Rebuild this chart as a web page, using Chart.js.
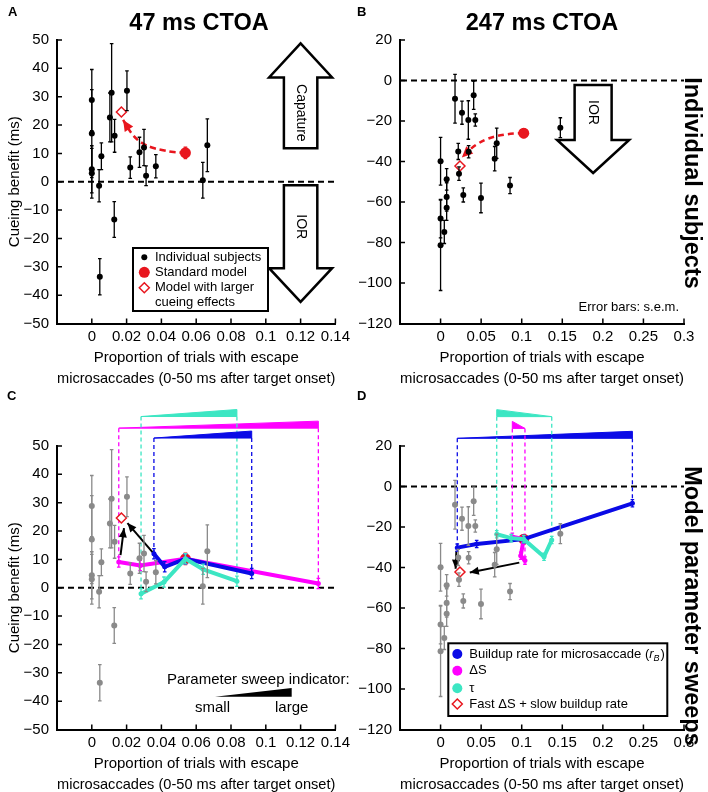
<!DOCTYPE html>
<html><head><meta charset="utf-8">
<script src="https://cdn.jsdelivr.net/npm/chart.js@4.4.1/dist/chart.umd.min.js"></script>
<style>
html,body{margin:0;padding:0;background:#fff;overflow:hidden;width:708px;height:792px;position:relative;font-family:"Liberation Sans",Arial,sans-serif;}
canvas{position:absolute;}
.t{position:absolute;font-weight:bold;color:#000;white-space:nowrap;}
.ttl{position:absolute;font-weight:bold;font-size:23.5px;line-height:28px;text-align:center;width:300px;}
.side{position:absolute;font-weight:bold;font-size:23.5px;line-height:28px;white-space:nowrap;transform:translate(-50%,-50%) rotate(90deg);}
</style></head><body>
<canvas id="cA" width="354" height="396" style="left:0;top:0"></canvas>
<canvas id="cB" width="354" height="396" style="left:354px;top:0"></canvas>
<canvas id="cC" width="354" height="396" style="left:0;top:406px"></canvas>
<canvas id="cD" width="354" height="396" style="left:354px;top:406px"></canvas>
<div class="t" style="left:8px;top:5px;font-size:13px;line-height:14px">A</div>
<div class="t" style="left:357px;top:5px;font-size:13px;line-height:14px">B</div>
<div class="t" style="left:7px;top:389px;font-size:13px;line-height:14px">C</div>
<div class="t" style="left:357px;top:389px;font-size:13px;line-height:14px">D</div>
<div class="ttl" style="left:49px;top:8px">47 ms CTOA</div>
<div class="ttl" style="left:392px;top:8px">247 ms CTOA</div>
<div class="side" style="left:693px;top:183px">Individual subjects</div>
<div class="side" style="left:693px;top:606px">Model parameter sweeps</div>
<script>
// ---------------- DATA ----------------
// 47 ms CTOA: individual subjects
const subj47_x   = [0.000,0.000,0.000,0.000,0.0042,0.0055,0.0046,0.0104,0.0114,0.0131,0.0129,0.0202,0.0221,0.0274,0.0300,0.0312,0.0368,0.0638,0.0664];
const subj47_y   = [28.8,17.0,4.4,3.0,-1.4,9.0,-33.5,22.7,31.4,16.2,-13.3,32.1,5.0,10.4,12.1,2.1,5.5,0.5,12.9];
const subj47_err = [10.8,15.5,8.3,8.8,5.7,4.7,6.4,8.6,17.3,5.8,6.3,7.0,3.8,5.3,6.4,3.5,4.1,6.3,9.3];
const model47_x = [0.0538], model47_y = [10.2], model47_err = [2.0];
const large47_x = [0.0170], large47_y = [24.6];
const curve47_x = [0.0538,0.047,0.041,0.035,0.030,0.026,0.0225,0.0180];
const curve47_y = [10.2,10.5,11.1,12.0,13.3,15.0,17.4,21.8];

// 247 ms CTOA: individual subjects
const subj247_x   = [0.000,0.000,0.000,0.0046,0.0075,0.0075,0.0075,0.0178,0.0218,0.0227,0.0264,0.0280,0.0342,0.0346,0.0408,0.0428,0.0498,0.0667,0.0692,0.0856,0.1476];
const subj247_y   = [-39.9,-68.2,-81.4,-74.8,-62.8,-57.5,-48.8,-9.0,-35.0,-46.0,-15.9,-56.5,-19.5,-35.2,-7.3,-19.5,-58.0,-38.6,-31.0,-51.9,-23.3];
const subj247_err = [11.8,9.5,22.3,5.7,6.3,7.0,5.3,12.0,4.0,3.3,5.7,3.5,9.5,3.0,7.0,3.0,7.3,6.0,7.5,4.0,4.9];
const model247_x = [0.1025], model247_y = [-26.0], model247_err = [2.2];
const large247_x = [0.0239], large247_y = [-42.2];
const curve247_x = [0.1025,0.090,0.078,0.066,0.055,0.046,0.038,0.0262];
const curve247_y = [-26.0,-26.2,-26.8,-27.8,-29.3,-31.2,-33.5,-38.0];

// Parameter sweeps, 47 ms
const sweepRB47_x  = [0.0357,0.0419,0.0538,0.0919];
const sweepRB47_y  = [12.0,7.4,10.2,5.0];
const sweepDS47_x  = [0.0155,0.0278,0.0538,0.1302];
const sweepDS47_y  = [9.1,7.85,10.2,1.5];
const sweepTau47_x = [0.0283,0.0415,0.0538,0.064,0.0834];
const sweepTau47_y = [-2.1,2.0,10.2,6.5,2.3];
const arrow47a_x = [0.0165,0.0185], arrow47a_y = [11.5,21.0];
const arrow47b_x = [0.0350,0.0205], arrow47b_y = [12.5,22.8];

// Parameter sweeps, 247 ms
const sweepRB247_x  = [0.0206,0.0445,0.1025,0.2364];
const sweepRB247_y  = [-30.2,-28.4,-26.0,-8.3];
const sweepDS247_x  = [0.0884,0.1025,0.0988,0.1040];
const sweepDS247_y  = [-24.8,-26.0,-34.2,-36.6];
const sweepTau247_x = [0.0692,0.0870,0.1025,0.1275,0.1370];
const sweepTau247_y = [-23.6,-25.5,-26.0,-34.7,-26.4];
const arrow247a_x = [0.0195,0.0185], arrow247a_y = [-31.8,-40.6];
const arrow247b_x = [0.0970,0.0360], arrow247b_y = [-37.6,-42.5];

// Axis ticks
const xTicks47  = {min:-0.02, max:0.14, step:0.02};
const xTicks247 = {min:-0.05, max:0.30, step:0.05};
const yTicks47  = {min:-50, max:50, step:10};
const yTicks247 = {min:-120, max:20, step:20};

// ---------------- STYLE ----------------
const FONT = '"Liberation Sans", Arial, Helvetica, sans-serif';
Chart.defaults.font.family = FONT;
Chart.defaults.color = '#000';
const RED = '#e8161e', BLUE = '#0a0ae6', MAG = '#ff00ff', CYAN = '#3ce6c3', GREY = '#8a8a8a';

function pts(xs, ys){ return xs.map((x,i)=>({x:x, y:ys[i]})); }
function fmtX(v){ if (v < -1e-9) return ''; return String(parseFloat(v.toFixed(3))); }
function fmtY(v){ return v < 0 ? '\u2212' + Math.abs(v) : String(v); }

const common = {
  id:'common',
  beforeDatasetsDraw(chart){
    const {ctx, chartArea:ca, scales:{y}} = chart;
    const y0 = y.getPixelForValue(0);
    ctx.save(); ctx.strokeStyle='#000'; ctx.lineWidth=2; ctx.setLineDash([6,4]);
    ctx.beginPath(); ctx.moveTo(ca.left+1, y0); ctx.lineTo(ca.right, y0); ctx.stroke(); ctx.restore();
  },
  beforeDatasetDraw(chart, args){
    const ds = chart.data.datasets[args.index];
    if (!ds.errs) return;
    const {ctx, scales:{x,y}} = chart;
    ctx.save(); ctx.strokeStyle = ds.errColor || ds.borderColor; ctx.lineWidth = ds.errWidth || 1.3;
    ds.data.forEach((p,i)=>{
      const e = ds.errs[i]; if (!e) return;
      const px = x.getPixelForValue(p.x), ya = y.getPixelForValue(p.y-e), yb = y.getPixelForValue(p.y+e);
      const c = ds.capHalf || 1.8;
      ctx.beginPath(); ctx.moveTo(px,ya); ctx.lineTo(px,yb);
      ctx.moveTo(px-c,ya); ctx.lineTo(px+c,ya); ctx.moveTo(px-c,yb); ctx.lineTo(px+c,yb); ctx.stroke();
    });
    ctx.restore();
  },
  afterDatasetDraw(chart, args){
    const ds = chart.data.datasets[args.index];
    if (!ds.arrowHead) return;
    const m = chart.getDatasetMeta(args.index).data; const n = m.length;
    const a = m[n-2], b = m[n-1];
    const ang = Math.atan2(b.y-a.y, b.x-a.x), L = ds.arrowHead.L, W = ds.arrowHead.W;
    const ctx = chart.ctx; ctx.save(); ctx.fillStyle = ds.arrowHead.color;
    ctx.translate(b.x,b.y); ctx.rotate(ang);
    ctx.beginPath(); ctx.moveTo(0,0); ctx.lineTo(-L,W); ctx.lineTo(-L,-W); ctx.closePath(); ctx.fill();
    ctx.restore();
  },
  afterDraw(chart){
    const {ctx, chartArea:ca, scales:{x,y}} = chart;
    ctx.save(); ctx.strokeStyle='#000'; ctx.lineWidth=1.5; ctx.beginPath();
    x.ticks.forEach(t=>{ if (t.value <= x.min+1e-9) return; const px=x.getPixelForValue(t.value); ctx.moveTo(px,ca.bottom); ctx.lineTo(px,ca.bottom-5); });
    y.ticks.forEach(t=>{ if (t.value <= y.min+1e-9) return; const py=y.getPixelForValue(t.value); ctx.moveTo(ca.left,py); ctx.lineTo(ca.left+5,py); });
    ctx.stroke(); ctx.restore();
  }
};
Chart.register(common);

function options(xt, yt, padR, yW, yTitle){
  return {
    responsive:false, maintainAspectRatio:false, animation:false, devicePixelRatio:1,
    layout:{padding:{left:0,right:padR,top:40,bottom:0}},
    plugins:{legend:{display:false}, tooltip:{enabled:false}},
    scales:{
      x:{type:'linear', position:'bottom', min:xt.min, max:xt.max,
        ticks:{stepSize:xt.step, callback:fmtX, font:{size:15}, color:'#000', padding:4, maxRotation:0, autoSkip:false},
        grid:{display:false, drawTicks:false}, border:{display:true,color:'#000',width:2},
        title:{display:true, text:['Proportion of trials with escape','microsaccades (0-50 ms after target onset)'], font:{size:15,lineHeight:1.4}, color:'#000', padding:{top:0,bottom:7}},
        afterFit(s){ s.height = 72.5; }},
      y:{type:'linear', min:yt.min, max:yt.max,
        ticks:{stepSize:yt.step, callback:fmtY, font:{size:15}, color:'#000', padding:8, autoSkip:false},
        grid:{display:false, drawTicks:false}, border:{display:true,color:'#000',width:2},
        title:{display:yTitle, text:'Cueing benefit (ms)', font:{size:15}, color:'#000', padding:{top:6,bottom:0}},
        afterFit(s){ s.width = yW; }}
    }
  };
}

function subjDs(xs, ys, es, col){
  return {data:pts(xs,ys), errs:es, borderColor:col, backgroundColor:col, pointRadius:3, pointBorderWidth:0, showLine:false, errWidth:1.3};
}
function modelDs(xs, ys, es){
  return {data:pts(xs,ys), errs:es, borderColor:RED, backgroundColor:RED, pointRadius:5.5, pointBorderWidth:0, showLine:false};
}
function diamondDs(xs, ys){
  return {data:pts(xs,ys), pointStyle:'rectRot', pointRadius:5, borderColor:RED, backgroundColor:'#fff', pointBorderWidth:1.5, borderWidth:1.5, showLine:false};
}
function curveDs(xs, ys){
  return {data:pts(xs,ys), showLine:true, borderColor:RED, borderWidth:2.5, borderDash:[6,4], pointRadius:0, tension:0.4, fill:false, arrowHead:{L:11,W:5,color:RED}};
}
function sweepDs(xs, ys, col){
  return {data:pts(xs,ys), showLine:true, borderColor:col, backgroundColor:col, borderWidth:4, pointRadius:2.5, pointBorderWidth:0, errs:xs.map(()=>1.8), errWidth:1.3, tension:0, fill:false};
}
function arrowDs(xs, ys){
  return {data:pts(xs,ys), showLine:true, borderColor:'#000', borderWidth:2, pointRadius:0, arrowHead:{L:9,W:4,color:'#000'}};
}

function bigArrow(chart, a){
  const {ctx, scales:{x,y}} = chart;
  const cx = x.getPixelForValue(a.x);
  const hh = x.getPixelForValue(a.x+a.headHalf)-cx, sh = x.getPixelForValue(a.x+a.shaftHalf)-cx;
  const yt = y.getPixelForValue(a.tip), yb = y.getPixelForValue(a.base), ye = y.getPixelForValue(a.end);
  ctx.save(); ctx.beginPath();
  ctx.moveTo(cx,yt); ctx.lineTo(cx+hh,yb); ctx.lineTo(cx+sh,yb); ctx.lineTo(cx+sh,ye);
  ctx.lineTo(cx-sh,ye); ctx.lineTo(cx-sh,yb); ctx.lineTo(cx-hh,yb); ctx.closePath();
  ctx.fillStyle='#fff'; ctx.fill(); ctx.lineWidth=2.5; ctx.strokeStyle='#000'; ctx.stroke();
  ctx.translate(cx,(yb+ye)/2); ctx.rotate(Math.PI/2);
  ctx.fillStyle='#000'; ctx.font='14px '+FONT; ctx.textAlign='center'; ctx.textBaseline='middle';
  ctx.fillText(a.label,0,0); ctx.restore();
}
function dot(ctx,x,y,r,c){ ctx.beginPath(); ctx.arc(x,y,r,0,Math.PI*2); ctx.fillStyle=c; ctx.fill(); }
function diamond(ctx,x,y,r){ ctx.beginPath(); ctx.moveTo(x,y-r); ctx.lineTo(x+r,y); ctx.lineTo(x,y+r); ctx.lineTo(x-r,y); ctx.closePath(); ctx.fillStyle='#fff'; ctx.fill(); ctx.lineWidth=1.5; ctx.strokeStyle=RED; ctx.stroke(); }

function sweepIndicators(list){
  return {id:'sweepInd', beforeDatasetsDraw(chart){
    const {ctx, scales:{x,y}} = chart;
    list.forEach(s=>{
      const n = s.xs.length;
      const xa = x.getPixelForValue(s.xs[0]), xb = x.getPixelForValue(s.xs[n-1]);
      const yb = y.getPixelForValue(s.level);
      ctx.save(); ctx.strokeStyle=s.color; ctx.lineWidth=1.3; ctx.setLineDash([4,3]);
      ctx.beginPath(); ctx.moveTo(xa,yb); ctx.lineTo(xa,y.getPixelForValue(s.ys[0]));
      ctx.moveTo(xb,yb); ctx.lineTo(xb,y.getPixelForValue(s.ys[n-1])); ctx.stroke();
      ctx.setLineDash([]); ctx.fillStyle=s.color; ctx.beginPath();
      const h = 7;
      if (s.thick==='end'){ ctx.moveTo(xa,yb); ctx.lineTo(xb,yb); ctx.lineTo(xb,yb-h); }
      else { ctx.moveTo(xa,yb-h); ctx.lineTo(xa,yb); ctx.lineTo(xb,yb); }
      ctx.closePath(); ctx.fill(); ctx.lineWidth=1; ctx.stroke(); ctx.restore();
    });
  }};
}

// ---------------- PANEL A ----------------
new Chart(document.getElementById('cA'), {
  type:'scatter',
  data:{datasets:[
    subjDs(subj47_x, subj47_y, subj47_err, '#000'),
    curveDs(curve47_x, curve47_y),
    modelDs(model47_x, model47_y, model47_err),
    diamondDs(large47_x, large47_y)
  ]},
  options:options(xTicks47, yTicks47, 14, 57, true),
  plugins:[{id:'extraA', afterDraw(chart){
    bigArrow(chart,{x:0.12, headHalf:0.0181, shaftHalf:0.0096, tip:48.8, base:36.8, end:11.8, label:'Capature'});
    bigArrow(chart,{x:0.12, headHalf:0.0181, shaftHalf:0.0096, tip:-42.4, base:-30.5, end:-1.2, label:'IOR'});
    const ctx = chart.ctx; ctx.save();
    ctx.fillStyle='#fff'; ctx.fillRect(133,248,135,63);
    ctx.lineWidth=2; ctx.strokeStyle='#000'; ctx.strokeRect(133,248,135,63);
    dot(ctx,144.3,257.3,3,'#000'); dot(ctx,144.3,272.3,5.5,RED); diamond(ctx,144.3,287.7,5);
    ctx.fillStyle='#000'; ctx.font='13px '+FONT; ctx.textBaseline='middle'; ctx.textAlign='left';
    ctx.fillText('Individual subjects',155,257.3); ctx.fillText('Standard model',155,272.3);
    ctx.fillText('Model with larger',155,287.7); ctx.fillText('cueing effects',155,302);
    ctx.restore();
  }}]
});

// ---------------- PANEL B ----------------
new Chart(document.getElementById('cB'), {
  type:'scatter',
  data:{datasets:[
    subjDs(subj247_x, subj247_y, subj247_err, '#000'),
    curveDs(curve247_x, curve247_y),
    modelDs(model247_x, model247_y, model247_err),
    diamondDs(large247_x, large247_y)
  ]},
  options:options(xTicks247, yTicks247, 24, 46, false),
  plugins:[{id:'extraB', afterDraw(chart){
    bigArrow(chart,{x:0.188, headHalf:0.0444, shaftHalf:0.0228, tip:-45.7, base:-29.4, end:-2.2, label:'IOR'});
    const ctx = chart.ctx; ctx.save();
    ctx.fillStyle='#000'; ctx.font='13px '+FONT; ctx.textBaseline='middle'; ctx.textAlign='right';
    ctx.fillText('Error bars: s.e.m.',325,307); ctx.restore();
  }}]
});

// ---------------- PANEL C ----------------
new Chart(document.getElementById('cC'), {
  type:'scatter',
  data:{datasets:[
    subjDs(subj47_x, subj47_y, subj47_err, GREY),
    sweepDs(sweepTau47_x, sweepTau47_y, CYAN),
    sweepDs(sweepRB47_x, sweepRB47_y, BLUE),
    sweepDs(sweepDS47_x, sweepDS47_y, MAG),
    arrowDs(arrow47a_x, arrow47a_y),
    arrowDs(arrow47b_x, arrow47b_y),
    diamondDs(large47_x, large47_y),
    modelDs(model47_x, model47_y, model47_err)
  ]},
  options:options(xTicks47, yTicks47, 14, 57, true),
  plugins:[sweepIndicators([
    {xs:sweepDS47_x, ys:sweepDS47_y, color:MAG, level:56.3, thick:'end'},
    {xs:sweepTau47_x, ys:sweepTau47_y, color:CYAN, level:60.4, thick:'end'},
    {xs:sweepRB47_x, ys:sweepRB47_y, color:BLUE, level:52.8, thick:'end'}
  ]), {id:'extraC', afterDraw(chart){
    const ctx = chart.ctx; ctx.save();
    ctx.fillStyle='#000'; ctx.font='15px '+FONT; ctx.textBaseline='middle';
    ctx.textAlign='left'; ctx.fillText('Parameter sweep indicator:',167,274);
    ctx.beginPath(); ctx.moveTo(215,290.7); ctx.lineTo(291.7,290.7); ctx.lineTo(291.7,282); ctx.closePath(); ctx.fill();
    ctx.textAlign='center'; ctx.fillText('small',212.5,301.5); ctx.fillText('large',291.7,301.5);
    ctx.restore();
  }}]
});

// ---------------- PANEL D ----------------
new Chart(document.getElementById('cD'), {
  type:'scatter',
  data:{datasets:[
    subjDs(subj247_x, subj247_y, subj247_err, GREY),
    sweepDs(sweepTau247_x, sweepTau247_y, CYAN),
    sweepDs(sweepRB247_x, sweepRB247_y, BLUE),
    sweepDs(sweepDS247_x, sweepDS247_y, MAG),
    arrowDs(arrow247a_x, arrow247a_y),
    arrowDs(arrow247b_x, arrow247b_y),
    diamondDs(large247_x, large247_y),
    modelDs(model247_x, model247_y, model247_err)
  ]},
  options:options(xTicks247, yTicks247, 24, 46, false),
  plugins:[sweepIndicators([
    {xs:sweepRB247_x, ys:sweepRB247_y, color:BLUE, level:23.8, thick:'end'},
    {xs:sweepTau247_x, ys:sweepTau247_y, color:CYAN, level:34.5, thick:'start'},
    {xs:sweepDS247_x, ys:sweepDS247_y, color:MAG, level:28.7, thick:'start'}
  ]), {id:'extraD', afterDraw(chart){
    const ctx = chart.ctx; ctx.save();
    ctx.fillStyle='#fff'; ctx.fillRect(94.3,237.3,219,72.7);
    ctx.lineWidth=2; ctx.strokeStyle='#000'; ctx.strokeRect(94.3,237.3,219,72.7);
    dot(ctx,103.3,248,5,BLUE); dot(ctx,103.3,264.7,5,MAG); dot(ctx,103.3,282.3,5,CYAN); diamond(ctx,103.3,298,5);
    ctx.fillStyle='#000'; ctx.textBaseline='middle'; ctx.textAlign='left';
    ctx.font='13px '+FONT;
    let tx = 115.3; const s1 = 'Buildup rate for microsaccade (';
    ctx.fillText(s1,tx,248); tx += ctx.measureText(s1).width;
    ctx.font='italic 13px '+FONT; ctx.fillText('r',tx,248); tx += ctx.measureText('r').width;
    ctx.font='italic 9px '+FONT; ctx.fillText('B',tx,252); tx += ctx.measureText('B').width + 1;
    ctx.font='13px '+FONT; ctx.fillText(')',tx,248);
    ctx.fillText('\u0394S',115.3,264.7); ctx.fillText('\u03C4',115.3,282.3);
    ctx.fillText('Fast \u0394S + slow buildup rate',115.3,298);
    ctx.restore();
  }}]
});
</script>
</body></html>
